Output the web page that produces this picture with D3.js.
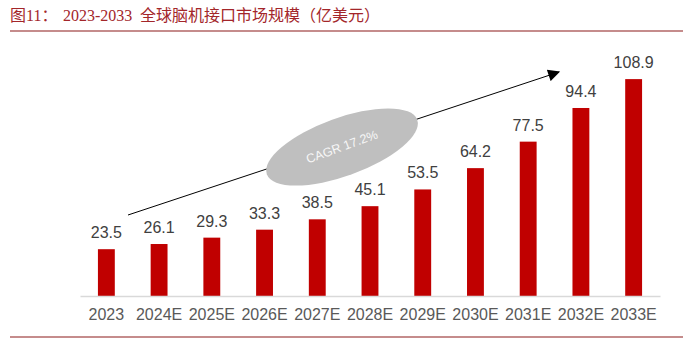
<!DOCTYPE html>
<html><head><meta charset="utf-8">
<script src="https://cdn.jsdelivr.net/npm/d3@7"></script>
<style>html,body{margin:0;padding:0;background:#fff;}svg{display:block;}</style>
</head><body>
<svg id="c" width="683" height="342"></svg>
<script>
const categories = ["2023","2024E","2025E","2026E","2027E","2028E","2029E","2030E","2031E","2032E","2033E"];
const values = [23.5,26.1,29.3,33.3,38.5,45.1,53.5,64.2,77.5,94.4,108.9];
const titlePrefix = "图11：";
const titleYears = "2023-2033";
const titleText = "全球脑机接口市场规模（亿美元）";
const cagrText = "CAGR 17.2%";

const svg = d3.select("#c");
const base = 296;
const x = d3.scaleBand().domain(categories).range([80, 660]).paddingInner(0.68).paddingOuter(0.34);
const y = d3.scaleLinear().domain([0, 120]).range([base, base - 239]);

// title
const tf = "'Liberation Serif','DejaVu Serif','Noto Sans CJK SC',serif";
const tcol = "#a3262a";
svg.append("text").attr("x", 10).attr("y", 21)
  .attr("fill", tcol).attr("font-size", 16).attr("font-family", tf).text(titlePrefix);
svg.append("text").attr("x", 63).attr("y", 21)
  .attr("fill", tcol).attr("font-size", 16).attr("font-family", tf).text(titleYears);
svg.append("text").attr("x", 140).attr("y", 21)
  .attr("fill", tcol).attr("font-size", 16).attr("font-family", tf)
  .attr("textLength", 240).attr("lengthAdjust", "spacing").text(titleText);
svg.append("line").attr("x1", 10).attr("x2", 683).attr("y1", 31).attr("y2", 31)
  .attr("stroke", "#8b1a1a").attr("stroke-width", 1.2);
svg.append("line").attr("x1", 10).attr("x2", 683).attr("y1", 337).attr("y2", 337)
  .attr("stroke", "#8b1a1a").attr("stroke-width", 1.2);

// bars
svg.selectAll("rect.bar").data(values).enter().append("rect")
  .attr("class", "bar")
  .attr("x", (d, i) => x(categories[i]))
  .attr("width", x.bandwidth())
  .attr("y", d => y(d))
  .attr("height", d => base - y(d))
  .attr("fill", "#c00000");

// value labels
svg.selectAll("text.val").data(values).enter().append("text")
  .attr("class", "val")
  .attr("x", (d, i) => x(categories[i]) + x.bandwidth() / 2)
  .attr("y", d => y(d) - 11)
  .attr("text-anchor", "middle")
  .attr("font-family", "Arial, 'Liberation Sans', sans-serif")
  .attr("font-size", 16).attr("fill", "#404040")
  .text(d => d.toFixed(1));

// axis
const ax = svg.append("g").attr("transform", `translate(0,${base})`)
  .call(d3.axisBottom(x).tickSize(0).tickPadding(13));
ax.select(".domain").attr("stroke", "#d9d9d9").attr("stroke-width", 1.5);
ax.selectAll("text").attr("font-family", "Arial, 'Liberation Sans', sans-serif")
  .attr("font-size", 16).attr("fill", "#595959");

// arrow
const defs = svg.append("defs");
defs.append("marker").attr("id", "ah").attr("viewBox", "0 0 10 10")
  .attr("refX", 9).attr("refY", 5).attr("markerWidth", 14).attr("markerHeight", 12)
  .attr("markerUnits", "userSpaceOnUse").attr("orient", "auto")
  .append("path").attr("d", "M0,0 L10,5 L0,10 z").attr("fill", "#000");
svg.append("line").attr("x1", 128).attr("y1", 215).attr("x2", 559).attr("y2", 72)
  .attr("stroke", "#000").attr("stroke-width", 1).attr("marker-end", "url(#ah)");

// ellipse
const g = svg.append("g").attr("transform", "translate(342,147) rotate(-20)");
g.append("ellipse").attr("rx", 80).attr("ry", 29).attr("fill", "#bfbfbf");
g.append("text").attr("x", 0).attr("y", 4).attr("text-anchor", "middle")
  .attr("font-family", "Arial, 'Liberation Sans', sans-serif")
  .attr("font-size", 12.5).attr("fill", "#f7f7f7").text(cagrText);
</script>
</body></html>
